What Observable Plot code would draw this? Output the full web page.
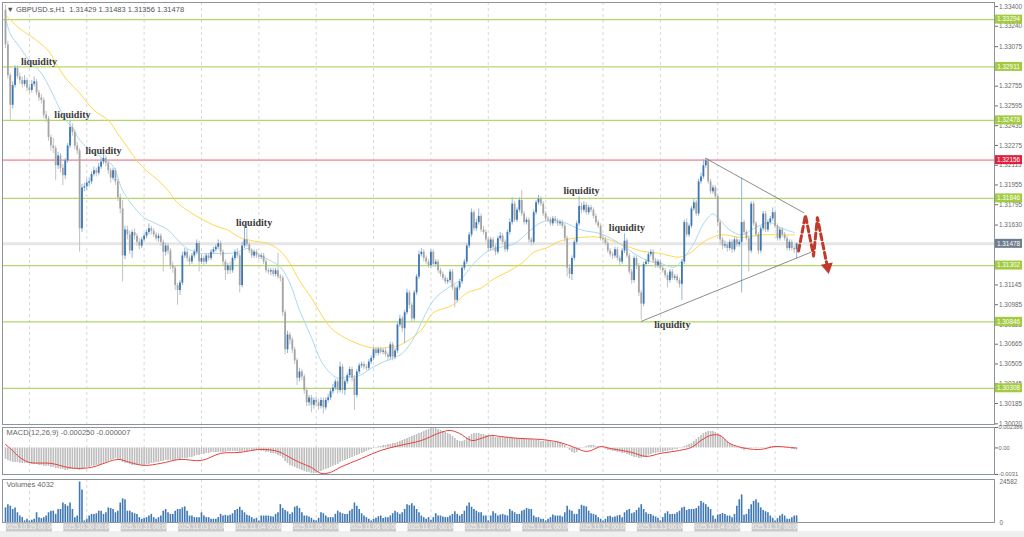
<!DOCTYPE html>
<html><head><meta charset="utf-8">
<script src="https://cdn.jsdelivr.net/npm/d3@7"></script>
<script src="https://cdn.jsdelivr.net/npm/@observablehq/plot@0.6"></script>
<style>
body{margin:0;background:#fff;}
#wrap{position:relative;width:1024px;height:537px;overflow:hidden;background:#fff}
#wrap > div{position:absolute;left:0;width:1024px}
svg{display:block;overflow:visible}
</style></head>
<body><div id="wrap"><div style="top:531px;height:6px;background:#efefef"></div><div id="vol" style="top:476px"></div><div id="macd" style="top:425px"></div><div id="main" style="top:0"></div></div>
<script>
// ---------- DATA ----------
const symbolTitle = "▼ GBPUSD.s,H1  1.31429 1.31483 1.31356 1.31478";
const macdTitle = "MACD(12,26,9) -0.000250 -0.000007";
const volTitle = "Volumes 4032";
const tradingDays = ["2025-10-28","2025-10-29","2025-10-30","2025-10-31","2025-11-03","2025-11-04","2025-11-05","2025-11-06","2025-11-07","2025-11-10","2025-11-11","2025-11-12","2025-11-13","2025-11-14","2025-11-17"];
const firstBarHour = 14, lastBarHour = 9;
const firstOpen = 1.3337;
const closes = [
1.3309,1.3284,1.3260,1.3276,1.3290,1.3283,1.3280,1.3277,1.3280,1.3274,
1.3272,1.3277,1.3279,1.3270,1.3266,1.3264,1.3252,1.3249,1.3234,1.3227,
1.3225,1.3211,1.3219,1.3209,1.3203,1.3215,1.3227,1.3242,1.3238,1.3227,
1.3223,1.3160,1.3193,1.3194,1.3197,1.3198,1.3204,1.3207,1.3205,1.3210,
1.3214,1.3217,1.3213,1.3207,1.3201,1.3207,1.3198,1.3185,1.3176,1.3138,
1.3159,1.3155,1.3142,1.3157,1.3154,1.3149,1.3146,1.3151,1.3154,1.3157,
1.3160,1.3158,1.3155,1.3152,1.3154,1.3149,1.3141,1.3146,1.3142,1.3130,
1.3128,1.3114,1.3110,1.3116,1.3138,1.3141,1.3136,1.3133,1.3138,1.3141,
1.3148,1.3133,1.3136,1.3133,1.3138,1.3136,1.3141,1.3143,1.3145,1.3148,
1.3141,1.3133,1.3126,1.3130,1.3126,1.3136,1.3141,1.3138,1.3114,1.3146,
1.3151,1.3147,1.3142,1.3138,1.3141,1.3138,1.3137,1.3138,1.3133,1.3126,
1.3125,1.3126,1.3123,1.3126,1.3121,1.3120,1.3092,1.3062,1.3074,1.3070,
1.3062,1.3053,1.3039,1.3044,1.3040,1.3029,1.3019,1.3023,1.3017,1.3021,
1.3019,1.3016,1.3021,1.3015,1.3021,1.3023,1.3028,1.3031,1.3036,1.3029,
1.3048,1.3029,1.3036,1.3041,1.3046,1.3039,1.3025,1.3044,1.3049,1.3050,
1.3048,1.3047,1.3052,1.3055,1.3062,1.3059,1.3062,1.3060,1.3061,1.3058,
1.3056,1.3066,1.3056,1.3061,1.3082,1.3087,1.3079,1.3092,1.3108,1.3098,
1.3087,1.3108,1.3121,1.3139,1.3141,1.3136,1.3133,1.3130,1.3141,1.3131,
1.3133,1.3126,1.3123,1.3120,1.3117,1.3118,1.3125,1.3112,1.3102,1.3112,
1.3117,1.3128,1.3133,1.3146,1.3155,1.3173,1.3160,1.3165,1.3170,1.3159,
1.3157,1.3151,1.3144,1.3151,1.3145,1.3141,1.3152,1.3154,1.3149,1.3143,
1.3157,1.3165,1.3180,1.3167,1.3175,1.3183,1.3172,1.3165,1.3167,1.3151,
1.3149,1.3173,1.3181,1.3184,1.3180,1.3172,1.3168,1.3167,1.3164,1.3168,
1.3166,1.3164,1.3165,1.3162,1.3152,1.3128,1.3123,1.3136,1.3149,1.3164,
1.3178,1.3175,1.3179,1.3173,1.3177,1.3175,1.3170,1.3165,1.3162,1.3152,
1.3151,1.3148,1.3142,1.3139,1.3138,1.3143,1.3136,1.3133,1.3142,1.3150,
1.3138,1.3125,1.3118,1.3136,1.3130,1.3108,1.3099,1.3131,1.3133,1.3139,
1.3141,1.3134,1.3130,1.3133,1.3128,1.3126,1.3122,1.3118,1.3125,1.3120,
1.3121,1.3118,1.3115,1.3133,1.3165,1.3155,1.3162,1.3176,1.3181,1.3172,
1.3198,1.3202,1.3211,1.3215,1.3198,1.3190,1.3193,1.3186,1.3165,1.3151,
1.3146,1.3147,1.3144,1.3149,1.3143,1.3151,1.3147,1.3149,1.3165,1.3157,
1.3152,1.3142,1.3180,1.3164,1.3155,1.3142,1.3160,1.3172,1.3159,1.3165,
1.3168,1.3173,1.3162,1.3152,1.3159,1.3155,1.3152,1.3144,1.3149,1.3144,
1.31429,1.31478];
const highs = [
1.3341,1.3312,1.3286,1.3279,1.3292,1.3292,1.3286,1.3283,1.3284,1.3282,
1.3277,1.3280,1.3283,1.3281,1.3272,1.3269,1.3266,1.3255,1.3251,1.3236,
1.3233,1.3227,1.3222,1.3221,1.3212,1.3217,1.3229,1.3247,1.3245,1.3240,
1.3230,1.3225,1.3196,1.3197,1.3200,1.3201,1.3206,1.3210,1.3209,1.3213,
1.3217,1.3221,1.3219,1.3215,1.3209,1.3209,1.3209,1.3200,1.3188,1.3183,
1.3162,1.3162,1.3158,1.3159,1.3160,1.3156,1.3152,1.3153,1.3156,1.3159,
1.3164,1.3162,1.3160,1.3157,1.3156,1.3156,1.3151,1.3148,1.3148,1.3144,
1.3133,1.3130,1.3116,1.3118,1.3141,1.3144,1.3143,1.3138,1.3140,1.3143,
1.3151,1.3150,1.3139,1.3138,1.3140,1.3140,1.3143,1.3145,1.3147,1.3151,
1.3150,1.3143,1.3135,1.3132,1.3133,1.3138,1.3143,1.3144,1.3140,1.3149,
1.3163,1.3160,1.3149,1.3144,1.3143,1.3143,1.3140,1.3140,1.3140,1.3135,
1.3128,1.3128,1.3128,1.3128,1.3140,1.3123,1.3122,1.3094,1.3077,1.3076,
1.3072,1.3064,1.3055,1.3047,1.3046,1.3042,1.3031,1.3025,1.3025,1.3023,
1.3024,1.3022,1.3023,1.3023,1.3023,1.3026,1.3030,1.3034,1.3038,1.3038,
1.3052,1.3050,1.3038,1.3043,1.3048,1.3048,1.3041,1.3046,1.3051,1.3052,
1.3052,1.3050,1.3054,1.3057,1.3064,1.3064,1.3064,1.3064,1.3063,1.3063,
1.3060,1.3068,1.3068,1.3063,1.3084,1.3090,1.3089,1.3094,1.3111,1.3110,
1.3100,1.3110,1.3123,1.3142,1.3144,1.3143,1.3138,1.3135,1.3143,1.3143,
1.3135,1.3135,1.3128,1.3125,1.3122,1.3120,1.3127,1.3127,1.3114,1.3114,
1.3119,1.3130,1.3135,1.3148,1.3157,1.3176,1.3175,1.3168,1.3176,1.3172,
1.3162,1.3159,1.3153,1.3153,1.3153,1.3147,1.3154,1.3157,1.3156,1.3151,
1.3159,1.3168,1.3185,1.3182,1.3177,1.3185,1.3191,1.3174,1.3169,1.3169,
1.3153,1.3175,1.3183,1.3187,1.3186,1.3182,1.3174,1.3170,1.3169,1.3170,
1.3170,1.3168,1.3167,1.3167,1.3164,1.3154,1.3131,1.3138,1.3151,1.3166,
1.3186,1.3181,1.3182,1.3181,1.3179,1.3179,1.3177,1.3172,1.3167,1.3164,
1.3155,1.3153,1.3150,1.3144,1.3141,1.3145,1.3145,1.3138,1.3144,1.3156,
1.3152,1.3140,1.3127,1.3138,1.3138,1.3132,1.3110,1.3133,1.3135,1.3141,
1.3143,1.3143,1.3136,1.3135,1.3135,1.3130,1.3128,1.3124,1.3127,1.3127,
1.3123,1.3123,1.3120,1.3135,1.3167,1.3168,1.3164,1.3178,1.3184,1.3183,
1.3200,1.3205,1.3216,1.3217,1.3217,1.3200,1.3195,1.3195,1.3188,1.3167,
1.3153,1.3150,1.3149,1.3151,1.3151,1.3153,1.3153,1.3151,1.3201,1.3167,
1.3159,1.3154,1.3182,1.3182,1.3166,1.3157,1.3162,1.3174,1.3174,1.3167,
1.3170,1.3177,1.3175,1.3164,1.3161,1.3161,1.3157,1.3154,1.3151,1.3151,
1.3146,1.31483];
const lows = [
1.3306,1.3281,1.3248,1.3257,1.3274,1.3281,1.3277,1.3274,1.3275,1.3271,
1.3269,1.3270,1.3275,1.3268,1.3263,1.3261,1.3249,1.3246,1.3231,1.3223,
1.3221,1.3199,1.3208,1.3205,1.3195,1.3200,1.3213,1.3225,1.3235,1.3224,
1.3220,1.3141,1.3157,1.3190,1.3191,1.3194,1.3196,1.3202,1.3202,1.3203,
1.3208,1.3212,1.3210,1.3204,1.3197,1.3199,1.3195,1.3182,1.3172,1.3117,
1.3135,1.3151,1.3139,1.3136,1.3151,1.3146,1.3143,1.3144,1.3149,1.3152,
1.3155,1.3155,1.3153,1.3150,1.3149,1.3146,1.3125,1.3138,1.3139,1.3127,
1.3124,1.3110,1.3098,1.3106,1.3114,1.3136,1.3133,1.3130,1.3131,1.3136,
1.3139,1.3125,1.3131,1.3130,1.3131,1.3134,1.3134,1.3139,1.3141,1.3143,
1.3138,1.3130,1.3118,1.3123,1.3123,1.3124,1.3134,1.3136,1.3108,1.3112,
1.3144,1.3145,1.3140,1.3136,1.3136,1.3136,1.3135,1.3135,1.3131,1.3124,
1.3123,1.3122,1.3121,1.3121,1.3119,1.3117,1.3089,1.3058,1.3059,1.3066,
1.3059,1.3050,1.3033,1.3036,1.3037,1.3026,1.3016,1.3016,1.3011,1.3014,
1.3016,1.3013,1.3014,1.3010,1.3013,1.3019,1.3021,1.3026,1.3029,1.3026,
1.3027,1.3026,1.3025,1.3034,1.3039,1.3036,1.3013,1.3023,1.3042,1.3047,
1.3046,1.3045,1.3045,1.3050,1.3053,1.3057,1.3057,1.3058,1.3058,1.3056,
1.3053,1.3054,1.3053,1.3054,1.3059,1.3080,1.3076,1.3067,1.3090,1.3095,
1.3084,1.3085,1.3106,1.3119,1.3137,1.3133,1.3131,1.3128,1.3128,1.3129,
1.3129,1.3124,1.3121,1.3118,1.3115,1.3115,1.3116,1.3110,1.3096,1.3100,
1.3110,1.3115,1.3126,1.3131,1.3144,1.3153,1.3158,1.3158,1.3163,1.3157,
1.3155,1.3149,1.3141,1.3142,1.3142,1.3138,1.3139,1.3150,1.3147,1.3141,
1.3141,1.3155,1.3163,1.3165,1.3165,1.3173,1.3170,1.3163,1.3163,1.3148,
1.3146,1.3147,1.3171,1.3179,1.3178,1.3170,1.3166,1.3165,1.3162,1.3162,
1.3164,1.3162,1.3162,1.3160,1.3149,1.3121,1.3119,1.3118,1.3134,1.3147,
1.3162,1.3172,1.3173,1.3171,1.3171,1.3173,1.3168,1.3163,1.3160,1.3150,
1.3148,1.3146,1.3140,1.3137,1.3135,1.3136,1.3134,1.3130,1.3131,1.3140,
1.3136,1.3123,1.3115,1.3116,1.3127,1.3105,1.3086,1.3097,1.3129,1.3131,
1.3137,1.3132,1.3128,1.3128,1.3126,1.3124,1.3120,1.3112,1.3116,1.3118,
1.3118,1.3116,1.3112,1.3102,1.3131,1.3153,1.3153,1.3160,1.3174,1.3170,
1.3170,1.3196,1.3200,1.3209,1.3196,1.3188,1.3188,1.3184,1.3162,1.3147,
1.3143,1.3144,1.3141,1.3142,1.3140,1.3141,1.3145,1.3145,1.3108,1.3155,
1.3150,1.3125,1.3140,1.3162,1.3153,1.3139,1.3140,1.3158,1.3157,1.3157,
1.3163,1.3166,1.3160,1.3150,1.3150,1.3153,1.3150,1.3142,1.3142,1.3142,
1.3140,1.31356];
const volumes = [
8865,10835,9850,7880,8865,5910,3940,2955,985,1970,
985,1380,1970,5910,2955,2360,2955,3940,5910,6895,
6895,4925,7880,7880,11820,10835,9850,11820,7880,2955,
3940,24582,19700,985,1970,3940,4925,4925,5320,6895,
6895,4925,5910,8865,8470,7880,5910,6895,11820,14380,
13790,6895,6895,5910,5320,4925,2955,1970,2360,2955,
3940,4925,2955,1970,2955,3940,6895,7880,5910,4925,
4925,6895,7880,7880,8865,9455,6895,3940,3940,2955,
2955,2955,5910,3940,2955,2955,1970,1970,1970,2955,
4925,3940,4330,3940,4330,5320,7290,7880,9260,7290,
5910,4330,3940,2955,1970,2560,985,3940,3940,3940,
3940,3545,3350,4925,5910,10835,8470,7290,6500,4925,
5910,9260,9850,8470,5910,3940,3940,3350,2560,1380,
985,2560,5910,5320,3940,2955,2955,2955,4925,6895,
5910,5320,4925,4925,6895,7880,11820,9850,7880,5320,
3940,2955,1970,985,1970,2560,3545,3940,2360,2955,
2955,3940,5320,6895,5910,4925,5910,7880,10835,10245,
11425,9850,7880,5910,3940,2955,1970,2955,1380,2955,
5320,3940,3940,3350,2955,2955,3940,4925,6500,4925,
3940,4925,6895,9850,11820,9260,7880,6895,5910,5910,
3940,3940,985,3940,6500,5320,3940,4530,4925,4330,
3940,7880,6895,5910,4925,4925,6895,7485,8470,8075,
7880,3940,2955,2955,1970,1970,985,1970,2955,4530,
3940,3940,3940,3350,5910,9850,7485,6895,4925,4925,
7880,10440,9850,9455,6895,5320,4925,4330,2955,1970,
985,1970,3545,3740,2955,3350,3940,4330,2955,5910,
7290,7880,5320,5910,7290,8865,10835,7880,5910,4925,
4925,3940,3350,2560,985,2955,5320,6500,4925,4925,
4925,5910,6895,8865,9260,7290,7880,7880,7880,8470,
9850,12805,11820,10835,9260,7880,3940,1970,4530,4925,
5515,4925,3940,3940,2955,4925,9850,13790,16745,4330,
4925,7880,10835,12805,13790,11820,8865,7290,6500,5910,
3940,2560,985,2360,3940,4925,3940,1970,1970,2955,
3940,4032];
const macdHist = [
-0.00134,-0.00146,-0.00157,-0.00169,-0.00169,-0.00169,-0.0018,-0.0018,-0.0018,-0.0018,
-0.0018,-0.00192,-0.00192,-0.00192,-0.00204,-0.00204,-0.00215,-0.00215,-0.00215,-0.00227,
-0.00227,-0.00239,-0.00239,-0.0025,-0.0025,-0.00262,-0.00262,-0.0025,-0.0025,-0.00239,
-0.0025,-0.00262,-0.0025,-0.00239,-0.00227,-0.00227,-0.00215,-0.00215,-0.00204,-0.00204,
-0.00192,-0.0018,-0.00169,-0.00157,-0.00146,-0.00134,-0.00122,-0.00134,-0.00146,-0.00169,
-0.0018,-0.0018,-0.00192,-0.00204,-0.00204,-0.00204,-0.00204,-0.00204,-0.00204,-0.00192,
-0.00192,-0.0018,-0.0018,-0.00169,-0.00169,-0.00157,-0.00157,-0.00146,-0.00146,-0.00146,
-0.00146,-0.00146,-0.00134,-0.00134,-0.00122,-0.00122,-0.00122,-0.00111,-0.00111,-0.00099,
-0.00087,-0.00087,-0.00076,-0.00076,-0.00064,-0.00064,-0.00052,-0.00052,-0.00052,-0.00052,
-0.00052,-0.00052,-0.00052,-0.00041,-0.00041,-0.00041,-0.00041,-0.00041,-0.00052,-0.00041,
-0.00041,-0.00041,-0.00029,-0.00029,-0.00029,-0.00029,-0.00029,-0.00041,-0.00041,-0.00052,
-0.00052,-0.00064,-0.00064,-0.00076,-0.00087,-0.00099,-0.00122,-0.00157,-0.0018,-0.00204,
-0.00215,-0.00227,-0.00239,-0.0025,-0.00262,-0.00274,-0.00285,-0.00285,-0.00297,-0.00297,
-0.00297,-0.00285,-0.00274,-0.00262,-0.0025,-0.00239,-0.00227,-0.00215,-0.00204,-0.00192,
-0.00169,-0.00157,-0.00146,-0.00134,-0.00122,-0.00111,-0.00099,-0.00087,-0.00076,-0.00064,
-0.00052,-0.00041,-0.00029,-0.00017,-0.00006,0.00006,0.00017,0.00017,0.00029,0.00029,
0.00041,0.00041,0.00052,0.00052,0.00064,0.00076,0.00087,0.00099,0.00111,0.00122,
0.00134,0.00146,0.00157,0.00169,0.0018,0.00192,0.00204,0.00215,0.00227,0.00227,
0.00227,0.00215,0.00204,0.00192,0.0018,0.00169,0.00157,0.00134,0.00111,0.00087,
0.00076,0.00076,0.00087,0.00111,0.00134,0.00157,0.00169,0.00169,0.00169,0.00157,
0.00157,0.00146,0.00146,0.00134,0.00134,0.00122,0.00122,0.00122,0.00122,0.00122,
0.00122,0.00111,0.00111,0.00111,0.00111,0.00111,0.00111,0.00111,0.00099,0.00099,
0.00099,0.00087,0.00087,0.00087,0.00076,0.00076,0.00076,0.00076,0.00076,0.00064,
0.00064,0.00064,0.00064,0.00052,0.00029,-0.00006,-0.00029,-0.00052,-0.00064,-0.00052,
-0.00029,-0.00006,0.00006,0.00017,0.00029,0.00029,0.00029,0.00017,0.00017,0.00006,
-0.00006,-0.00017,-0.00029,-0.00029,-0.00041,-0.00041,-0.00052,-0.00052,-0.00064,-0.00064,
-0.00076,-0.00087,-0.00099,-0.00111,-0.00111,-0.00122,-0.00122,-0.00111,-0.00099,-0.00087,
-0.00076,-0.00064,-0.00064,-0.00052,-0.00052,-0.00052,-0.00041,-0.00041,-0.00029,-0.00029,
-0.00017,-0.00017,-0.00006,0.00006,0.00017,0.00029,0.00041,0.00052,0.00076,0.00099,
0.00122,0.00146,0.00169,0.0018,0.00192,0.00192,0.00192,0.0018,0.00169,0.00146,
0.00122,0.00099,0.00076,0.00052,0.00029,0.00017,0.00006,-0.00006,-0.00017,-0.00029,
-0.00017,-0.00006,-0.00006,-0.00006,0.00006,0.00006,-0.00006,-0.00006,0.00006,0.00006,
0.00017,0.00017,0.00017,0.00017,0.00006,0.00006,0.00006,-0.00006,-0.00006,-0.00017,
-0.0002,-0.00025];
const signalIdx = [0,2,6,10,19,26,30,36,40,47,52,58,65,73,82,90,98,107,114,119,123,128,132,136,140,149,157,165,174,182,186,190,195,199,203,207,215,224,232,238,243,247,249,253,262,268,274,282,287,291,295,299,303,310,316,322,328,331];
const signalVal = [0.00041,-0.00006,-0.00111,-0.00169,-0.0018,-0.00227,-0.00239,-0.00227,-0.00192,-0.00134,-0.00169,-0.00204,-0.0018,-0.00134,-0.00146,-0.00064,-0.00052,-0.00017,-0.00041,-0.00111,-0.00169,-0.00227,-0.00297,-0.00285,-0.00227,-0.00122,-0.00029,0.00029,0.00087,0.0018,0.00204,0.00169,0.00087,0.00111,0.00146,0.00134,0.00111,0.00099,0.00064,0.00006,-0.00041,-0.00006,0.00017,-0.00006,-0.00052,-0.00099,-0.00064,-0.00029,0.00006,0.00087,0.00146,0.00146,0.00052,-0.00006,-0.00017,0.00017,0.00006,-0.000007];
const maFastIdx = [0,2,6,10,15,19,23,26,28,31,36,40,44,46,49,54,58,62,68,72,76,82,87,93,97,101,107,111,115,119,123,128,132,136,139,143,148,153,158,162,166,171,174,179,185,190,196,202,207,213,218,224,229,234,241,249,257,263,269,274,280,284,288,292,296,299,303,308,312,316,320,324,330];
const maFastVal = [1.3331,1.3318,1.3307,1.3296,1.3286,1.3272,1.3256,1.3246,1.3242,1.3232,1.3223,1.3218,1.3213,1.3207,1.3191,1.3177,1.3169,1.3165,1.3159,1.3151,1.3144,1.3140,1.3140,1.3140,1.3141,1.3144,1.3138,1.3134,1.3129,1.3116,1.3094,1.3072,1.3053,1.3043,1.3039,1.3040,1.3041,1.3047,1.3052,1.3055,1.3059,1.3072,1.3084,1.3102,1.3112,1.3118,1.3132,1.3142,1.3145,1.3148,1.3156,1.3165,1.3167,1.3165,1.3159,1.3156,1.3148,1.3140,1.3134,1.3132,1.3129,1.3137,1.3148,1.3164,1.3172,1.3167,1.3159,1.3155,1.3159,1.3163,1.3165,1.3161,1.3157];
const maSlowIdx = [0,6,12,18,22,26,31,37,43,47,51,55,59,64,68,72,76,82,87,93,98,104,110,115,119,123,128,132,136,140,146,152,156,160,164,168,174,179,187,193,199,204,210,216,221,227,232,241,249,257,266,274,282,287,291,299,308,316,330];
const maSlowVal = [1.3333,1.3322,1.3314,1.3304,1.3291,1.3280,1.3270,1.3256,1.3248,1.3237,1.3226,1.3215,1.3207,1.3199,1.3191,1.3181,1.3175,1.3168,1.3163,1.3159,1.3153,1.3150,1.3148,1.3142,1.3132,1.3118,1.3104,1.3091,1.3080,1.3074,1.3068,1.3064,1.3063,1.3064,1.3065,1.3069,1.3078,1.3092,1.3098,1.3108,1.3112,1.3119,1.3125,1.3132,1.3141,1.3145,1.3150,1.3153,1.3153,1.3148,1.3142,1.3140,1.3137,1.3141,1.3148,1.3155,1.3153,1.3155,1.3155];
const greenLevels = [1.33294, 1.32911, 1.32478, 1.31846, 1.31302, 1.30846, 1.30308];
const redLevels = [1.32156];
const bidLevels = [1.31478];
// tick labels visible on the price scale (the others sit under the level boxes)
const priceTicks = [1.33400,1.33240,1.33075,1.32755,1.32595,1.32435,1.32275,1.32115,1.31955,1.31795,1.31630,1.31145,1.30985,1.30825,1.30665,1.30505,1.30345,1.30185,1.30020];
const macdTicks = [0.002386, 0, -0.0031];
const macdTickLabels = ["0.002386", "0.00", "-0.0031"];
const volTicks = [24582, 0];
const liqIdx = [14, 28, 41, 104, 241, 260, 279];
const liqPrice = [1.3295, 1.3252, 1.3223, 1.3165, 1.3191, 1.3161, 1.3082];
const triUpperIdx = [293, 334], triUpperVal = [1.3217, 1.3173];
const triLowerIdx = [266, 337], triLowerVal = [1.3085, 1.3141];
const zigIdx = [331.8, 334.7, 338.1, 339.7, 343.9];
const zigVal = [1.3142, 1.3171, 1.3138, 1.3169, 1.3129];

// ---------- BUILD ----------
const barTimes = [];
tradingDays.forEach((d, j) => {
  const h0 = j === 0 ? firstBarHour : 0, h1 = j === tradingDays.length - 1 ? lastBarHour : 23;
  for (let h = h0; h <= h1; h++) barTimes.push({day: d, hour: h});
});
const bars = closes.map((c, i) => ({i, o: i === 0 ? firstOpen : closes[i - 1], c, h: highs[i], l: lows[i], v: volumes[i], m: macdHist[i]}));
const up = d => d.c >= d.o;
const dayStarts = barTimes.map((t, i) => ({...t, i})).filter(t => t.hour === 0)
  .map(t => ({i: t.i, label: t.day.replace(/-/g, ".") + " 00:00"}));
const dayIdx = dayStarts.map(d => d.i);
const zip = (a, b) => a.map((x, k) => ({x, y: b[k]}));

const FONT = "Liberation Sans, Arial, sans-serif";
const W = 1024, MR = 30, ML = 2;
const xDomain = [-1.255, 413.8];
const common = {width: W, marginLeft: ML, marginRight: MR, x: {domain: xDomain, axis: null}};
const style = fs => ({fontFamily: FONT, fontSize: fs, color: "#6a6a6a", background: "transparent", overflow: "visible"});
const grid = Plot.ruleX(dayIdx, {stroke: "#cfcfcf", strokeDasharray: "3,3", strokeWidth: 0.8});

const main = Plot.plot({
  ...common, height: 425, marginTop: 2, marginBottom: 1, style: style("6.4px"),
  y: {domain: [1.300146, 1.334328], axis: "right", ticks: priceTicks, tickFormat: d => d.toFixed(5), tickSize: 3, tickPadding: 1.5, label: null},
  marks: [
    grid,
    Plot.ruleY(greenLevels, {stroke: "#b5d66b", strokeWidth: 1.3}),
    Plot.ruleY(redLevels, {stroke: "#f2a3ab", strokeWidth: 1.6}),
    Plot.ruleY(bidLevels, {stroke: "#e6e6e6", strokeWidth: 3}),
    Plot.line(zip(maSlowIdx, maSlowVal), {x: "x", y: "y", stroke: "#ffd84d", strokeWidth: 1, curve: "catmull-rom"}),
    Plot.line(zip(maFastIdx, maFastVal), {x: "x", y: "y", stroke: "#a9d9f2", strokeWidth: 1, curve: "catmull-rom"}),
    Plot.ruleX(bars, {x: "i", y1: "l", y2: "h", stroke: d => up(d) ? "#93b6db" : "#c2c2c2", strokeWidth: 1}),
    Plot.ruleX(bars, {x: "i", y1: "o", y2: "c", stroke: d => up(d) ? "#3d77b3" : "#a4a4a4", strokeWidth: 1.8}),
    Plot.line(zip(triUpperIdx, triUpperVal), {x: "x", y: "y", stroke: "#707070", strokeWidth: 0.8}),
    Plot.line(zip(triLowerIdx, triLowerVal), {x: "x", y: "y", stroke: "#707070", strokeWidth: 0.8}),
    Plot.line(zip(zigIdx, zigVal), {x: "x", y: "y", stroke: "#c0392b", strokeWidth: 3, strokeDasharray: "6,3.5"}),
    Plot.dot([{x: zigIdx[4], y: zigVal[4]}], {x: "x", y: "y", symbol: "triangle", r: 4.5, rotate: 169, fill: "#c0392b", stroke: "none"}),
    Plot.text(zip(liqIdx, liqPrice), {x: "x", y: "y", text: () => "liquidity", fontFamily: "Liberation Serif, DejaVu Serif, serif", fontWeight: "bold", fontSize: 10, fill: "#3a3a3a"}),
    Plot.text([symbolTitle], {frameAnchor: "top-left", dx: 4, dy: 4, text: d => d, fill: "#555", fontSize: 7.5, lineAnchor: "top"}),
    Plot.frame({stroke: "#8e949b", strokeWidth: 1})
  ]
});

const macd = Plot.plot({
  ...common, height: 51, marginTop: 2, marginBottom: 2, style: style("5.8px"),
  y: {domain: [-0.0031, 0.002386], axis: "right", ticks: macdTicks, tickFormat: d => macdTickLabels[macdTicks.indexOf(d)], tickSize: 3, tickPadding: 1, label: null},
  marks: [
    grid,
    Plot.ruleX(bars, {x: "i", y1: () => 0, y2: "m", stroke: "#bdbdbd", strokeWidth: 1.6}),
    Plot.line(zip(signalIdx, signalVal), {x: "x", y: "y", stroke: "#e8413c", strokeWidth: 1, curve: "catmull-rom"}),
    Plot.text([macdTitle], {frameAnchor: "top-left", dx: 4, dy: 2, text: d => d, fill: "#666", fontSize: 7.5, lineAnchor: "top"}),
    Plot.frame({stroke: "#8e949b", strokeWidth: 1})
  ]
});

const vol = Plot.plot({
  ...common, height: 61, marginTop: 3, marginBottom: 15, style: style("6.4px"),
  y: {domain: [0, 26100], axis: "right", ticks: volTicks, tickFormat: d => String(d), tickSize: 0, tickPadding: 5, label: null},
  marks: [
    grid,
    Plot.ruleX(bars, {x: "i", y1: () => 0, y2: "v", stroke: "#3f78b4", strokeWidth: 1.6}),
    Plot.text([volTitle], {frameAnchor: "top-left", dx: 4, dy: 2, text: d => d, fill: "#666", fontSize: 7.5, lineAnchor: "top"}),
    Plot.frame({stroke: "#8e949b", strokeWidth: 1})
  ]
});

document.getElementById("main").appendChild(main);
document.getElementById("macd").appendChild(macd);
document.getElementById("vol").appendChild(vol);

// labelled boxes placed through the charts' own scales
function addBox(svg, cx, cy, w, h, fill, label, color, fs) {
  const g = d3.select(svg).append("g");
  g.append("rect").attr("x", cx - w / 2).attr("y", cy - h / 2).attr("width", w).attr("height", h).attr("fill", fill);
  g.append("text").attr("x", cx).attr("y", cy).attr("dy", "0.36em").attr("text-anchor", "middle")
    .attr("font-size", fs).attr("font-family", FONT).attr("fill", color).text(label);
}
const ys = main.scale("y");
const boxX = W - MR + 14.5;
greenLevels.forEach(v => addBox(main, boxX, ys.apply(v), 27, 9, "#a3cb3f", v.toFixed(5), "#fff", 6.4));
redLevels.forEach(v => addBox(main, boxX, ys.apply(v), 27, 9, "#df1f3c", v.toFixed(5), "#fff", 6.4));
bidLevels.forEach(v => addBox(main, boxX, ys.apply(v), 27, 9, "#6f7c8b", v.toFixed(5), "#fff", 6.4));
const xs = vol.scale("x");
dayStarts.forEach(d => addBox(vol, xs.apply(d.i), 51, 46, 9, "#cbcbcb", d.label, "#f7f7f7", 6.6));
</script></body></html>
